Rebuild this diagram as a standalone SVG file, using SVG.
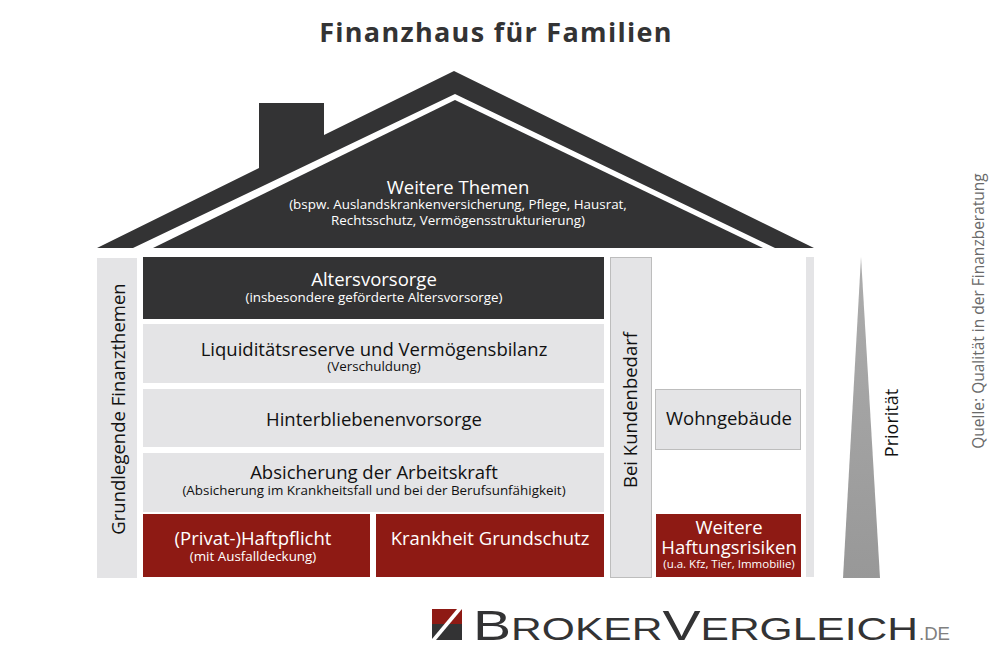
<svg xmlns="http://www.w3.org/2000/svg" width="1000" height="657" viewBox="0 0 1000 657">
<defs>
<linearGradient id="tri" x1="0" y1="0" x2="0" y2="1"><stop offset="0" stop-color="#adadad"/><stop offset="1" stop-color="#989898"/></linearGradient>
<style>
text{font-family:"Open Sans","Noto Sans","Liberation Sans",sans-serif;text-anchor:middle}
.d{fill:#333334}.g{fill:#e4e4e6}.gs{fill:#e4e4e6;stroke:#bdbdbd;stroke-width:1}.r{fill:#8e1a14}
.h{font-size:18.500px;font-weight:500;fill:#111}.hw{font-size:18.500px;font-weight:500;fill:#fff}
.s{font-size:13.400px;font-weight:500;fill:#111}.sw{font-size:13.400px;font-weight:500;fill:#fff}
.logo{font-family:"Liberation Sans",Arial,sans-serif;text-anchor:start;fill:#333334}
</style>
</defs>
<rect width="1000" height="657" fill="#fff"/>
<text x="496" y="42" font-size="27" font-weight="700" letter-spacing="1.3" fill="#333334">Finanzhaus für Familien</text>
<g id="roof">
<polygon class="d" points="97,248 259,168 259,103 324,103 324,135 454,71 814,248 775,248 455,94 133,248"/>
<polygon class="d" points="153,248 455,100 763,248"/>
<text class="hw" x="458" y="194">Weitere Themen</text>
<text class="sw" x="458" y="209">(bspw. Auslandskrankenversicherung, Pflege, Hausrat,</text>
<text class="sw" x="458" y="225">Rechtsschutz, Vermögensstrukturierung)</text>
</g>
<g id="grundlegend">
<rect class="g" x="97" y="258" width="40" height="320"/>
<text class="h" transform="translate(125,409) rotate(-90)">Grundlegende Finanzthemen</text>
</g>
<g id="altersvorsorge">
<rect class="d" x="143" y="257" width="461" height="62"/>
<text class="hw" x="374" y="286">Altersvorsorge</text>
<text class="sw" x="374" y="302">(insbesondere geförderte Altersvorsorge)</text>
</g>
<g id="liquiditaet">
<rect class="g" x="143" y="324" width="461" height="59"/>
<text class="h" x="374" y="356">Liquiditätsreserve und Vermögensbilanz</text>
<text class="s" x="374" y="371">(Verschuldung)</text>
</g>
<g id="hinterbliebene">
<rect class="g" x="143" y="389" width="461" height="58"/>
<text class="h" x="374" y="426">Hinterbliebenenvorsorge</text>
</g>
<g id="arbeitskraft">
<rect class="g" x="143" y="453" width="461" height="59"/>
<text class="h" x="374" y="479">Absicherung der Arbeitskraft</text>
<text class="s" x="374" y="495">(Absicherung im Krankheitsfall und bei der Berufsunfähigkeit)</text>
</g>
<g id="haftpflicht">
<rect class="r" x="143" y="514" width="227" height="63"/>
<text class="hw" x="253" y="545">(Privat-)Haftpflicht</text>
<text class="sw" x="253" y="561">(mit Ausfalldeckung)</text>
</g>
<g id="krankheit">
<rect class="r" x="376" y="514" width="228" height="63"/>
<text class="hw" x="490" y="545">Krankheit Grundschutz</text>
</g>
<g id="kundenbedarf">
<rect class="gs" x="610.500" y="257.500" width="41" height="320"/>
<text class="h" transform="translate(637,410) rotate(-90)">Bei Kundenbedarf</text>
</g>
<g id="wohngebaeude">
<rect class="gs" x="655.500" y="389.500" width="145" height="60"/>
<text class="h" x="729" y="425">Wohngebäude</text>
</g>
<g id="haftungsrisiken">
<rect class="r" x="656" y="514" width="145" height="63"/>
<text class="hw" x="729" y="534">Weitere</text>
<text class="hw" x="729" y="554">Haftungsrisiken</text>
<text class="sw" x="729" y="568" style="font-size:11.500px">(u.a. Kfz, Tier, Immobilie)</text>
</g>
<rect id="saeule" class="g" x="806" y="257" width="8" height="320"/>
<g id="prioritaet">
<polygon fill="url(#tri)" points="861,257 880,578 843,578"/>
<text class="h" style="font-size:18px" transform="translate(898,423) rotate(-90)">Priorität</text>
</g>
<text transform="translate(984,311) rotate(-90)" font-size="15.500" fill="#6a6a6a">Quelle: Qualität in der Finanzberatung</text>
<g id="logo">
<rect x="432" y="609" width="30" height="15" fill="#8e1a14"/>
<rect x="432" y="624" width="30" height="16" fill="#333334"/>
<polygon points="457,609 462,609 436,640 432,640 432,639" fill="#fff"/>
<text class="logo" x="473" y="640" font-size="43" textLength="445" lengthAdjust="spacingAndGlyphs">B<tspan font-size="32">ROKER</tspan>V<tspan font-size="32">ERGLEICH</tspan></text>
<text class="logo" x="919" y="640" font-size="18" textLength="31" lengthAdjust="spacingAndGlyphs" style="fill:#808080">.DE</text>
</g>
</svg>
